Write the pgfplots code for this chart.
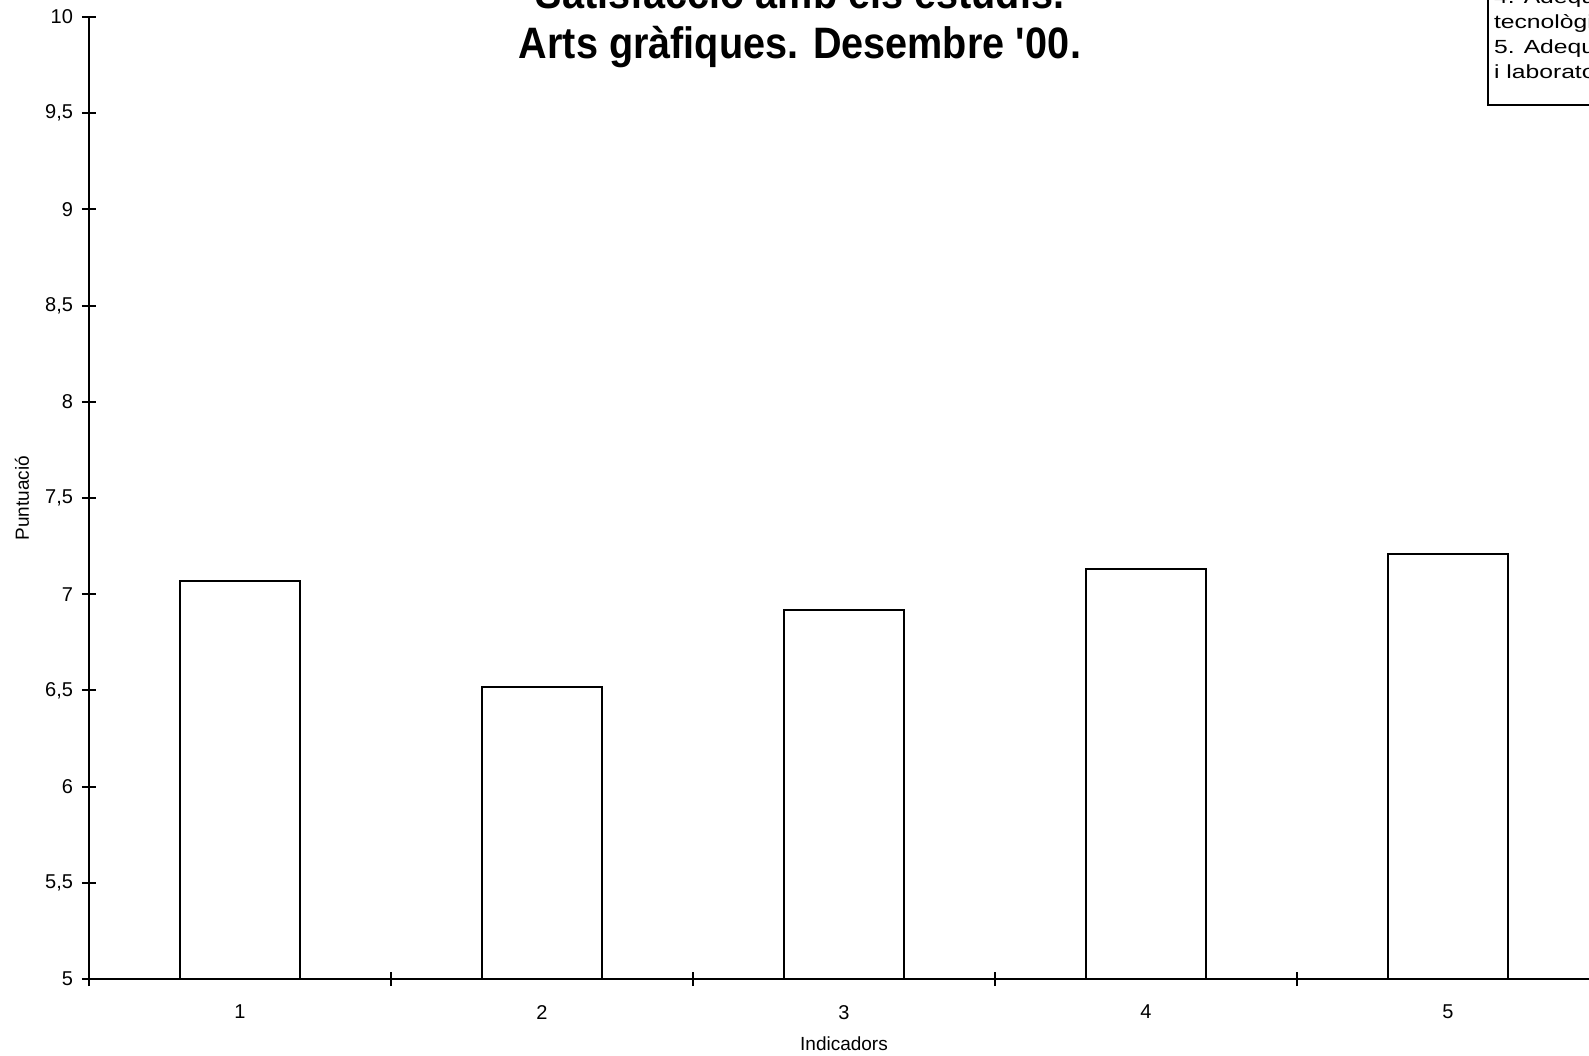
\documentclass[border=0pt]{standalone}
\usepackage{fontspec}
\setmainfont{Liberation Sans}
\newfontfamily\titlefont[FakeStretch=0.9]{Liberation Sans}
\newfontfamily\legfont[FakeStretch=1.3]{Liberation Sans}
\usepackage{pgfplots}
\pgfplotsset{compat=1.18}

% scores per indicator
\pgfplotstableread{
ind val
1 7.07
2 6.52
3 6.92
4 7.13
5 7.21
}\scores

\begin{document}
\begin{tikzpicture}
% the reference is a crop of a wider page: 1589 x 1055 px, 1 px = 0.5pt
\begin{scope}
\clip (0,0) rectangle (794.5pt,-527.5pt);
\begin{axis}[
    at={(44.5pt,-489.5pt)}, anchor=south west,
    scale only axis,
    width=755pt, height=481pt,
    xmin=0.5, xmax=5.5,
    ymin=5, ymax=10,
    axis lines=left,
    axis line style={line width=1.2pt, -},
    xtick={1,2,3,4,5},
    minor xtick={0.5,1.5,...,5.5},
    ytick={5,5.5,...,10},
    major x tick style={draw=none},
    every tick/.style={black, line width=1pt},
    tick align=center,
    major tick length=7pt,
    minor tick length=7pt,
    /pgf/number format/use comma,
    /pgf/number format/assume math mode=true,
    tick label style={font=\fontsize{10}{12}\selectfont},
    yticklabel style={xshift=-1pt},
    xticklabel style={yshift=-6pt},
    xlabel={Indicadors},
    ylabel={Puntuació},
    every axis x label/.style={at={(axis description cs:0.5,-0.0676)}, anchor=center, font=\fontsize{9.5}{11}\selectfont},
    every axis y label/.style={at={(axis description cs:-0.0444,0.5)}, rotate=90, anchor=center, font=\fontsize{9.5}{11}\selectfont},
    clip=false,
]
\addplot[ybar, bar width=60pt, draw=black, fill=white, line width=1pt] table[x=ind, y=val] {\scores};
\end{axis}
% title
\node[anchor=base, font=\fontsize{22}{26}\titlefont\bfseries] at (400pt,-4pt) {Satisfacció amb els estudis.};
\node[anchor=base, font=\fontsize{22}{26}\titlefont\bfseries] at (400pt,-29pt) {Arts gràfiques. Desembre \textquotesingle 00.};
% legend box (cut by the right edge)
\node[draw, line width=1pt, anchor=south west, align=left, inner sep=3pt,
      font=\fontsize{9.5}{12.4}\legfont, fill=white] at (743.5pt,-53pt)
  {4. Adequació dels recursos\\tecnològics\\5. Adequació de les aules\\i laboratoris\\[-2pt]};
\end{scope}
\pgfresetboundingbox
\path[use as bounding box] (0,0) rectangle (794.5pt,-527.5pt);
\end{tikzpicture}
\end{document}
